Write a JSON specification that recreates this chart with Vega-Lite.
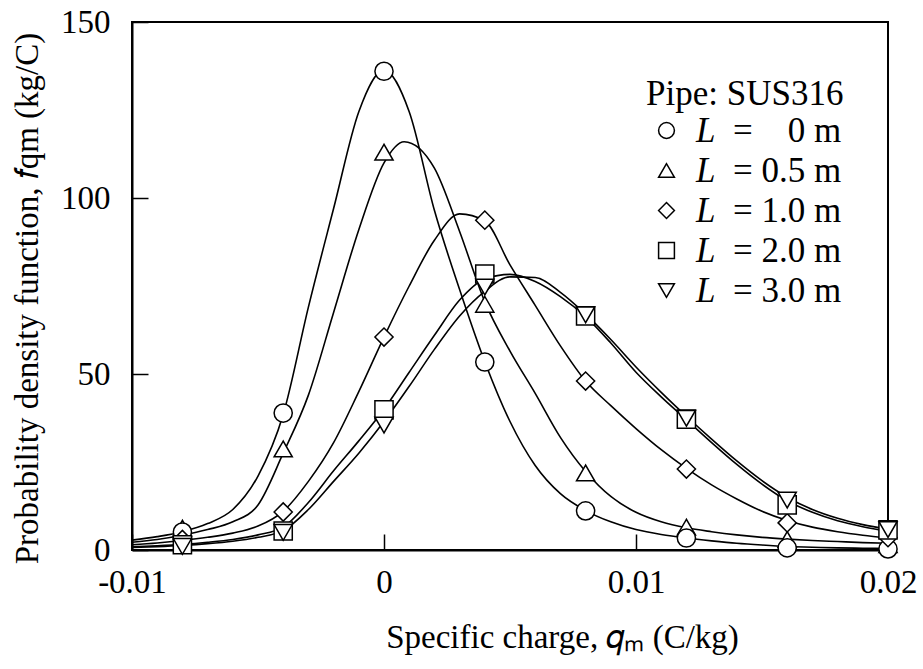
{
  "$schema": "https://vega.github.io/schema/vega-lite/v6.json",
  "width": 756,
  "height": 528,
  "autosize": {"type": "none"},
  "padding": {"left": 132, "top": 22, "right": 35, "bottom": 119},
  "background": "white",
  "config": {
    "font": "Liberation Serif, Times New Roman, Times, serif",
    "view": {"stroke": "black", "strokeWidth": 2},
    "axis": {
      "labelFont": "Liberation Serif, Times New Roman, Times, serif", "titleFont": "Liberation Serif, Times New Roman, Times, serif",
      "labelFontSize": 33, "titleFontSize": 33, "titleFontWeight": "normal",
      "labelColor": "black", "titleColor": "black", "domainColor": "black", "tickColor": "black",
      "domainWidth": 2, "tickWidth": 1.5, "tickSize": -16, "grid": false, "labelFlush": false, "labelOverlap": false
    },
    "legend": {"padding": 0}
  },
  "datasets": {
    "curves": [
      {"q": -0.010, "f": 2.8, "s": "0"}, {"q": -0.009, "f": 3.8, "s": "0"}, {"q": -0.008, "f": 5.2, "s": "0"}, {"q": -0.007, "f": 7.5, "s": "0"}, {"q": -0.006, "f": 11.5, "s": "0"}, {"q": -0.005, "f": 21, "s": "0"}, {"q": -0.004, "f": 38.5, "s": "0"}, {"q": -0.003, "f": 69, "s": "0"}, {"q": -0.002, "f": 97, "s": "0"}, {"q": -0.001, "f": 124.5, "s": "0"}, {"q": 0.000, "f": 136.3, "s": "0"}, {"q": 0.001, "f": 124.5, "s": "0"}, {"q": 0.002, "f": 96.5, "s": "0"}, {"q": 0.003, "f": 74, "s": "0"}, {"q": 0.004, "f": 53.5, "s": "0"}, {"q": 0.005, "f": 36.5, "s": "0"}, {"q": 0.006, "f": 24, "s": "0"}, {"q": 0.007, "f": 16, "s": "0"}, {"q": 0.008, "f": 11.2, "s": "0"}, {"q": 0.009, "f": 8, "s": "0"}, {"q": 0.010, "f": 5.8, "s": "0"}, {"q": 0.011, "f": 4.4, "s": "0"}, {"q": 0.012, "f": 3.4, "s": "0"}, {"q": 0.013, "f": 2.6, "s": "0"}, {"q": 0.014, "f": 1.9, "s": "0"}, {"q": 0.015, "f": 1.4, "s": "0"}, {"q": 0.016, "f": 1.0, "s": "0"}, {"q": 0.017, "f": 0.8, "s": "0"}, {"q": 0.018, "f": 0.6, "s": "0"}, {"q": 0.019, "f": 0.5, "s": "0"}, {"q": 0.020, "f": 0.4, "s": "0"},

      {"q": -0.010, "f": 2.2, "s": "0.5"}, {"q": -0.009, "f": 3.0, "s": "0.5"}, {"q": -0.008, "f": 4.2, "s": "0.5"}, {"q": -0.007, "f": 5.8, "s": "0.5"}, {"q": -0.006, "f": 8.0, "s": "0.5"}, {"q": -0.005, "f": 12.8, "s": "0.5"}, {"q": -0.004, "f": 27.5, "s": "0.5"}, {"q": -0.003, "f": 44, "s": "0.5"}, {"q": -0.002, "f": 67.5, "s": "0.5"}, {"q": -0.001, "f": 91, "s": "0.5"}, {"q": 0.000, "f": 110, "s": "0.5"}, {"q": 0.0008, "f": 116, "s": "0.5"}, {"q": 0.002, "f": 108.5, "s": "0.5"}, {"q": 0.003, "f": 90.5, "s": "0.5"}, {"q": 0.004, "f": 70.5, "s": "0.5"}, {"q": 0.005, "f": 56.5, "s": "0.5"}, {"q": 0.006, "f": 44.5, "s": "0.5"}, {"q": 0.007, "f": 32, "s": "0.5"}, {"q": 0.008, "f": 22.3, "s": "0.5"}, {"q": 0.009, "f": 15.2, "s": "0.5"}, {"q": 0.010, "f": 10.7, "s": "0.5"}, {"q": 0.011, "f": 8.0, "s": "0.5"}, {"q": 0.012, "f": 6.3, "s": "0.5"}, {"q": 0.013, "f": 5.2, "s": "0.5"}, {"q": 0.014, "f": 4.3, "s": "0.5"}, {"q": 0.015, "f": 3.6, "s": "0.5"}, {"q": 0.016, "f": 3.1, "s": "0.5"}, {"q": 0.017, "f": 2.7, "s": "0.5"}, {"q": 0.018, "f": 2.4, "s": "0.5"}, {"q": 0.019, "f": 2.1, "s": "0.5"}, {"q": 0.020, "f": 1.9, "s": "0.5"},

      {"q": -0.010, "f": 1.5, "s": "1.0"}, {"q": -0.009, "f": 2.0, "s": "1.0"}, {"q": -0.008, "f": 2.7, "s": "1.0"}, {"q": -0.007, "f": 3.6, "s": "1.0"}, {"q": -0.006, "f": 4.8, "s": "1.0"}, {"q": -0.005, "f": 6.8, "s": "1.0"}, {"q": -0.004, "f": 11, "s": "1.0"}, {"q": -0.003, "f": 19.5, "s": "1.0"}, {"q": -0.002, "f": 30.5, "s": "1.0"}, {"q": -0.001, "f": 45, "s": "1.0"}, {"q": 0.000, "f": 60.5, "s": "1.0"}, {"q": 0.001, "f": 75, "s": "1.0"}, {"q": 0.002, "f": 88, "s": "1.0"}, {"q": 0.003, "f": 95.5, "s": "1.0"}, {"q": 0.004, "f": 93.5, "s": "1.0"}, {"q": 0.005, "f": 81, "s": "1.0"}, {"q": 0.006, "f": 69.5, "s": "1.0"}, {"q": 0.007, "f": 58, "s": "1.0"}, {"q": 0.008, "f": 48, "s": "1.0"}, {"q": 0.009, "f": 41, "s": "1.0"}, {"q": 0.010, "f": 34.5, "s": "1.0"}, {"q": 0.011, "f": 28.5, "s": "1.0"}, {"q": 0.012, "f": 23.2, "s": "1.0"}, {"q": 0.013, "f": 18.5, "s": "1.0"}, {"q": 0.014, "f": 14.5, "s": "1.0"}, {"q": 0.015, "f": 11, "s": "1.0"}, {"q": 0.016, "f": 8.4, "s": "1.0"}, {"q": 0.017, "f": 6.5, "s": "1.0"}, {"q": 0.018, "f": 5.2, "s": "1.0"}, {"q": 0.019, "f": 4.2, "s": "1.0"}, {"q": 0.020, "f": 3.4, "s": "1.0"},

      {"q": -0.010, "f": 0.9, "s": "2.0"}, {"q": -0.009, "f": 1.2, "s": "2.0"}, {"q": -0.008, "f": 1.6, "s": "2.0"}, {"q": -0.007, "f": 2.2, "s": "2.0"}, {"q": -0.006, "f": 3.0, "s": "2.0"}, {"q": -0.005, "f": 4.3, "s": "2.0"}, {"q": -0.004, "f": 6.5, "s": "2.0"}, {"q": -0.003, "f": 13.5, "s": "2.0"}, {"q": -0.002, "f": 22.5, "s": "2.0"}, {"q": -0.001, "f": 31, "s": "2.0"}, {"q": 0.000, "f": 40, "s": "2.0"}, {"q": 0.001, "f": 50.5, "s": "2.0"}, {"q": 0.002, "f": 61, "s": "2.0"}, {"q": 0.003, "f": 71, "s": "2.0"}, {"q": 0.004, "f": 77, "s": "2.0"}, {"q": 0.005, "f": 78.3, "s": "2.0"}, {"q": 0.006, "f": 76.3, "s": "2.0"}, {"q": 0.007, "f": 72, "s": "2.0"}, {"q": 0.008, "f": 66.3, "s": "2.0"}, {"q": 0.009, "f": 58.8, "s": "2.0"}, {"q": 0.010, "f": 50.5, "s": "2.0"}, {"q": 0.011, "f": 43.5, "s": "2.0"}, {"q": 0.012, "f": 37, "s": "2.0"}, {"q": 0.013, "f": 30.5, "s": "2.0"}, {"q": 0.014, "f": 24.3, "s": "2.0"}, {"q": 0.015, "f": 18.7, "s": "2.0"}, {"q": 0.016, "f": 14, "s": "2.0"}, {"q": 0.017, "f": 10.7, "s": "2.0"}, {"q": 0.018, "f": 8.3, "s": "2.0"}, {"q": 0.019, "f": 6.6, "s": "2.0"}, {"q": 0.020, "f": 5.3, "s": "2.0"},

      {"q": -0.010, "f": 0.7, "s": "3.0"}, {"q": -0.009, "f": 0.95, "s": "3.0"}, {"q": -0.008, "f": 1.3, "s": "3.0"}, {"q": -0.007, "f": 1.8, "s": "3.0"}, {"q": -0.006, "f": 2.5, "s": "3.0"}, {"q": -0.005, "f": 3.6, "s": "3.0"}, {"q": -0.004, "f": 5.5, "s": "3.0"}, {"q": -0.003, "f": 11.5, "s": "3.0"}, {"q": -0.002, "f": 19.5, "s": "3.0"}, {"q": -0.001, "f": 27.5, "s": "3.0"}, {"q": 0.000, "f": 36.5, "s": "3.0"}, {"q": 0.001, "f": 46.5, "s": "3.0"}, {"q": 0.002, "f": 57, "s": "3.0"}, {"q": 0.003, "f": 66.5, "s": "3.0"}, {"q": 0.004, "f": 73.5, "s": "3.0"}, {"q": 0.005, "f": 77.6, "s": "3.0"}, {"q": 0.006, "f": 77.4, "s": "3.0"}, {"q": 0.007, "f": 73.2, "s": "3.0"}, {"q": 0.008, "f": 67, "s": "3.0"}, {"q": 0.009, "f": 59.8, "s": "3.0"}, {"q": 0.010, "f": 52, "s": "3.0"}, {"q": 0.011, "f": 44.8, "s": "3.0"}, {"q": 0.012, "f": 38, "s": "3.0"}, {"q": 0.013, "f": 31.5, "s": "3.0"}, {"q": 0.014, "f": 25.3, "s": "3.0"}, {"q": 0.015, "f": 19.7, "s": "3.0"}, {"q": 0.016, "f": 15, "s": "3.0"}, {"q": 0.017, "f": 11.5, "s": "3.0"}, {"q": 0.018, "f": 9, "s": "3.0"}, {"q": 0.019, "f": 7.2, "s": "3.0"}, {"q": 0.020, "f": 5.9, "s": "3.0"}
    ],
    "points": [
      {"q": -0.008, "f": 6.2, "s": "0.5", "eq": "= 0.5 m"}, {"q": -0.004, "f": 28.7, "s": "0.5", "eq": "= 0.5 m"}, {"q": 0, "f": 113, "s": "0.5", "eq": "= 0.5 m"}, {"q": 0.004, "f": 69.8, "s": "0.5", "eq": "= 0.5 m"}, {"q": 0.008, "f": 21.9, "s": "0.5", "eq": "= 0.5 m"}, {"q": 0.012, "f": 6.5, "s": "0.5", "eq": "= 0.5 m"}, {"q": 0.016, "f": 3.0, "s": "0.5", "eq": "= 0.5 m"}, {"q": 0.02, "f": 1.5, "s": "0.5", "eq": "= 0.5 m"},
      {"q": -0.008, "f": 5.1, "s": "0", "eq": "= \u2007\u20080 m"}, {"q": -0.004, "f": 38.9, "s": "0", "eq": "= \u2007\u20080 m"}, {"q": 0, "f": 136, "s": "0", "eq": "= \u2007\u20080 m"}, {"q": 0.004, "f": 53.4, "s": "0", "eq": "= \u2007\u20080 m"}, {"q": 0.008, "f": 11.1, "s": "0", "eq": "= \u2007\u20080 m"}, {"q": 0.012, "f": 3.4, "s": "0", "eq": "= \u2007\u20080 m"}, {"q": 0.016, "f": 0.6, "s": "0", "eq": "= \u2007\u20080 m"}, {"q": 0.02, "f": 0.3, "s": "0", "eq": "= \u2007\u20080 m"},
      {"q": -0.008, "f": 3.0, "s": "1.0", "eq": "= 1.0 m"}, {"q": -0.004, "f": 10.8, "s": "1.0", "eq": "= 1.0 m"}, {"q": 0, "f": 60.5, "s": "1.0", "eq": "= 1.0 m"}, {"q": 0.004, "f": 93.7, "s": "1.0", "eq": "= 1.0 m"}, {"q": 0.008, "f": 48, "s": "1.0", "eq": "= 1.0 m"}, {"q": 0.012, "f": 23, "s": "1.0", "eq": "= 1.0 m"}, {"q": 0.016, "f": 7.7, "s": "1.0", "eq": "= 1.0 m"}, {"q": 0.02, "f": 3.5, "s": "1.0", "eq": "= 1.0 m"},
      {"q": -0.008, "f": 1.5, "s": "2.0", "eq": "= 2.0 m"}, {"q": -0.004, "f": 5.4, "s": "2.0", "eq": "= 2.0 m"}, {"q": 0, "f": 39.8, "s": "2.0", "eq": "= 2.0 m"}, {"q": 0.004, "f": 78.4, "s": "2.0", "eq": "= 2.0 m"}, {"q": 0.008, "f": 66.5, "s": "2.0", "eq": "= 2.0 m"}, {"q": 0.012, "f": 37.2, "s": "2.0", "eq": "= 2.0 m"}, {"q": 0.016, "f": 12.8, "s": "2.0", "eq": "= 2.0 m"}, {"q": 0.02, "f": 5.7, "s": "2.0", "eq": "= 2.0 m"},
      {"q": -0.008, "f": 1.0, "s": "3.0", "eq": "= 3.0 m"}, {"q": -0.004, "f": 5.0, "s": "3.0", "eq": "= 3.0 m"}, {"q": 0, "f": 35.5, "s": "3.0", "eq": "= 3.0 m"}, {"q": 0.004, "f": 74.7, "s": "3.0", "eq": "= 3.0 m"}, {"q": 0.008, "f": 66.8, "s": "3.0", "eq": "= 3.0 m"}, {"q": 0.012, "f": 37.4, "s": "3.0", "eq": "= 3.0 m"}, {"q": 0.016, "f": 14.2, "s": "3.0", "eq": "= 3.0 m"}, {"q": 0.02, "f": 5.8, "s": "3.0", "eq": "= 3.0 m"}
    ]
  },
  "layer": [
    {
      "mark": {"type": "rule", "strokeDash": [2, 2], "strokeWidth": 1, "color": "black"},
      "encoding": {
        "x": {"datum": 0, "type": "quantitative", "scale": {"domain": [-0.01, 0.02], "nice": false}, "axis": {"values": [-0.01, 0, 0.01, 0.02], "labelPadding": 32, "titlePadding": 22, "titleX": 430, "labelExpr": "datum.value === 0 ? '0' : datum.value < 0 ? '-0.01' : datum.value < 0.015 ? '0.01' : '0.02'"}, "title": "Specific charge, 𝑞ₘ (C/kg)"}
      }
    },
    {
      "data": {"name": "curves"},
      "mark": {"type": "line", "interpolate": "monotone", "color": "black", "strokeWidth": 1.6},
      "encoding": {
        "x": {"field": "q", "type": "quantitative", "scale": {"domain": [-0.01, 0.02], "nice": false}, "axis": {"values": [-0.01, 0, 0.01, 0.02], "labelPadding": 32, "titlePadding": 22, "titleX": 430, "labelExpr": "datum.value === 0 ? '0' : datum.value < 0 ? '-0.01' : datum.value < 0.015 ? '0.01' : '0.02'"}, "title": "Specific charge, 𝑞ₘ (C/kg)"},
        "y": {"field": "f", "type": "quantitative", "scale": {"domain": [0, 150], "nice": false}, "axis": {"values": [0, 50, 100, 150], "labelPadding": 38, "titlePadding": 16, "titleY": 276}, "title": "Probability density function, 𝑓qm (kg/C)"},
        "detail": {"field": "s"}
      }
    },
    {
      "data": {"name": "points"},
      "mark": {"type": "point", "filled": true, "stroke": "black", "strokeWidth": 1.5, "size": 330, "opacity": 1, "fillOpacity": 1, "strokeOpacity": 1},
      "encoding": {
        "x": {"field": "q", "type": "quantitative", "scale": {"domain": [-0.01, 0.02], "nice": false}, "title": "Specific charge, 𝑞ₘ (C/kg)"},
        "y": {"field": "f", "type": "quantitative", "scale": {"domain": [0, 150], "nice": false}, "title": "Probability density function, 𝑓qm (kg/C)"},
        "shape": {
          "field": "s", "type": "nominal",
          "scale": {"domain": ["0", "0.5", "1.0", "2.0", "3.0"], "range": ["circle", "triangle-up", "diamond", "square", "triangle-down"]},
          "legend": {"orient": "none", "legendX": 514, "legendY": 55, "title": "Pipe: SUS316", "titleLimit": 500, "titleFont": "Liberation Serif, Times New Roman, Times, serif", "titleFontSize": 35, "titleFontWeight": "normal", "titleColor": "black", "titlePadding": 1, "labelExpr": "'L'", "labelFont": "Liberation Serif, Times New Roman, Times, serif", "labelFontSize": 35, "labelFontStyle": "italic", "labelColor": "black", "symbolOffset": 3, "labelOffset": 12, "symbolSize": 250, "symbolStrokeColor": "black", "symbolFillColor": "white", "symbolStrokeWidth": 1.5, "symbolOpacity": 1, "rowPadding": 4}
        },
        "fill": {
          "field": "eq", "type": "nominal",
          "scale": {"domain": ["= \u2007\u20080 m", "= 0.5 m", "= 1.0 m", "= 2.0 m", "= 3.0 m"], "range": ["white", "white", "white", "white", "white"]},
          "legend": {"orient": "none", "legendX": 566, "legendY": 91, "title": null, "labelFont": "Liberation Serif, Times New Roman, Times, serif", "labelFontSize": 35, "labelColor": "black", "symbolOpacity": 0, "symbolSize": 1, "symbolStrokeWidth": 0, "labelOffset": 0, "rowPadding": 4}
        }
      }
    }
  ]
}
